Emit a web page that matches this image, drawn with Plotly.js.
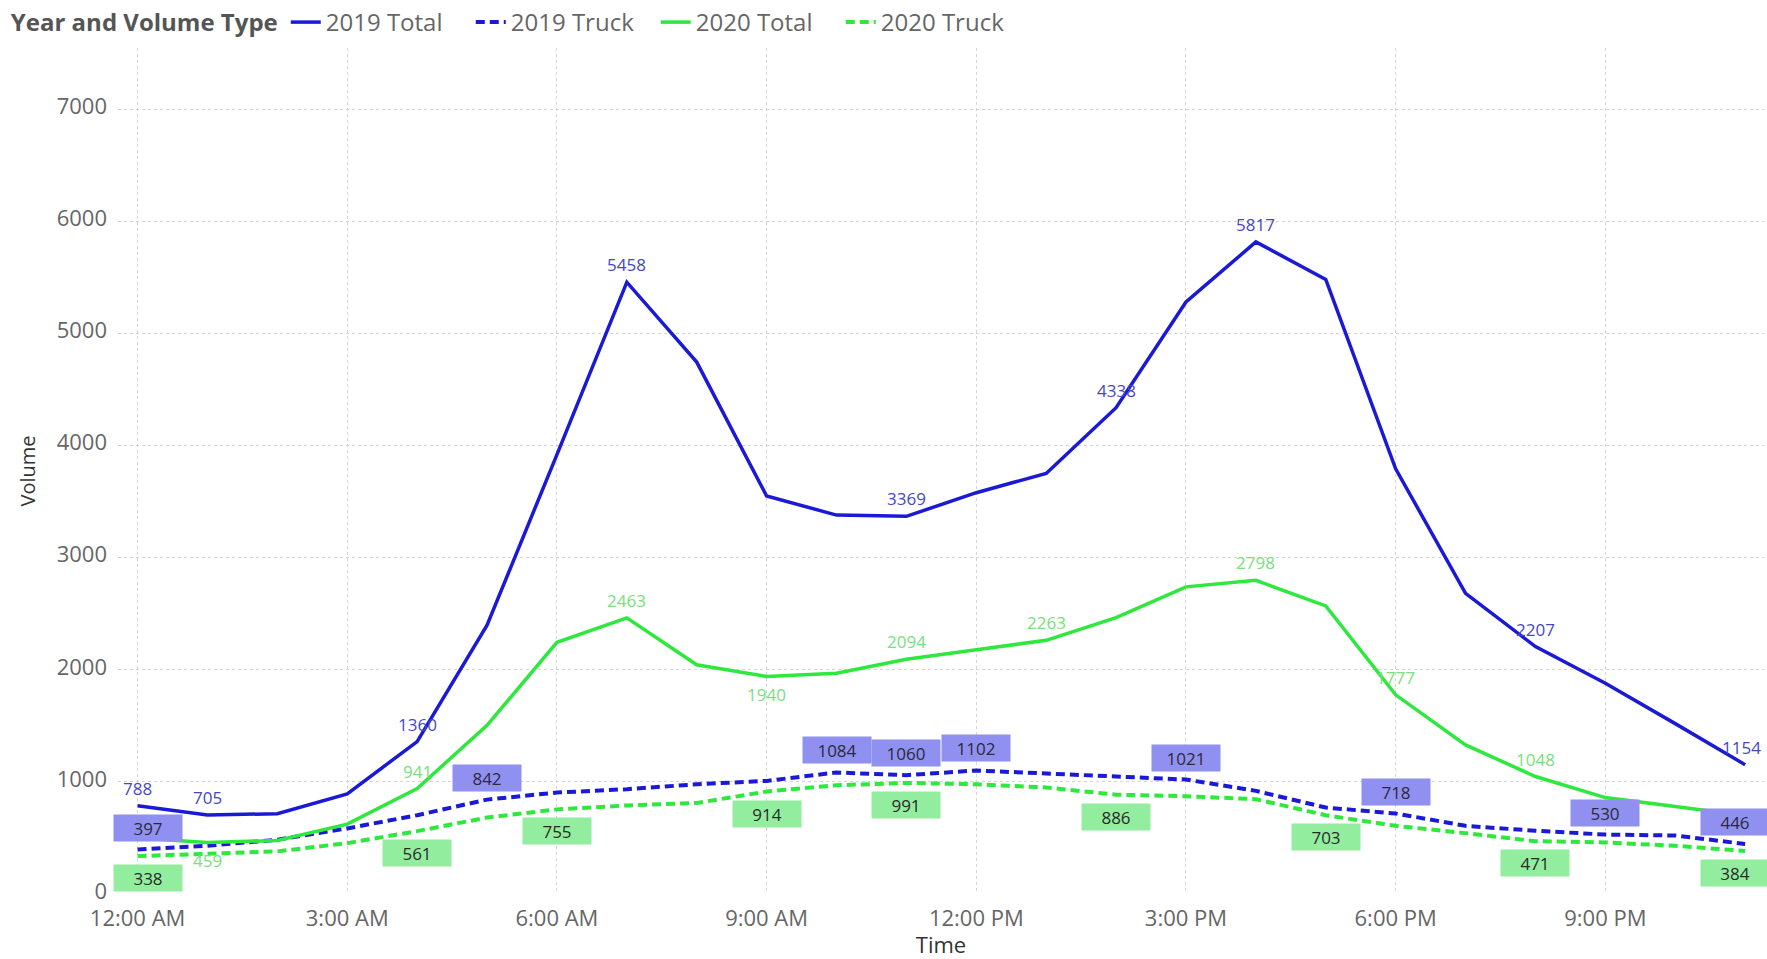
<!DOCTYPE html>
<html>
<head>
<meta charset="utf-8">
<script src="https://cdn.plot.ly/plotly-3.0.1.min.js"></script>
<style>html,body{margin:0;padding:0;background:#fff;}#chart{width:1767px;height:959px;}</style>
</head>
<body>
<div id="chart"></div>
<script>
// Hours 0..23 (12:00 AM .. 11:00 PM)
const hours = [0,1,2,3,4,5,6,7,8,9,10,11,12,13,14,15,16,17,18,19,20,21,22,23];
const tickHours = [0,3,6,9,12,15,18,21];
const tickLabels = ["12:00 AM","3:00 AM","6:00 AM","9:00 AM","12:00 PM","3:00 PM","6:00 PM","9:00 PM"];
const yTicks = [0,1000,2000,3000,4000,5000,6000,7000];

const total2019 = [788,705,716,893,1360,2398,3920,5458,4745,3551,3380,3369,3580,3752,4338,5281,5817,5483,3793,2682,2207,1880,1520,1154];
const truck2019 = [397,430,484,585,703,842,905,935,979,1009,1084,1060,1102,1074,1053,1021,920,771,718,608,564,530,522,446];
const total2020 = [500,459,478,623,941,1505,2245,2463,2045,1940,1970,2094,2179,2263,2465,2740,2798,2570,1777,1330,1048,860,780,700];
const truck2020 = [338,355,380,454,561,682,755,790,812,914,970,991,979,950,886,872,846,703,608,543,471,460,430,384];

// indices of points that carry a data label
const lbl2019Total = [0,1,4,7,11,14,16,20,23];
const lbl2019Truck = [0,5,10,11,12,15,18,21,23];
const lbl2020Total = [1,4,7,9,11,13,16,18,20];
const lbl2020TotalBelow = [1,9];
const lbl2020Truck = [0,4,6,9,11,14,17,20,23];

const BLUE = '#1a1ad6';
const GREEN = '#2ee83e';

const traces = [
  {x: hours, y: total2019, name: '2019 Total', type: 'scatter', mode: 'lines',
   line: {color: BLUE, width: 3.5}},
  {x: hours, y: truck2019, name: '2019 Truck', type: 'scatter', mode: 'lines',
   line: {color: BLUE, width: 4, dash: '9px,5px'}},
  {x: hours, y: total2020, name: '2020 Total', type: 'scatter', mode: 'lines',
   line: {color: GREEN, width: 3.5}},
  {x: hours, y: truck2020, name: '2020 Truck', type: 'scatter', mode: 'lines',
   line: {color: GREEN, width: 4, dash: '9px,5px'}}
];

function edgeShift(i) { return i === 0 ? 10 : (i === 23 ? -10 : 0); }

const annotations = [];
lbl2019Total.forEach(i => annotations.push({
  x: hours[i], y: total2019[i], xref: 'x', yref: 'y', text: String(total2019[i]),
  showarrow: false, yanchor: 'bottom', yshift: 4, xshift: i === 23 ? -4 : 0,
  font: {family: 'Open Sans, sans-serif', size: 17, color: '#4747c4'}
}));
lbl2020Total.forEach(i => {
  const below = lbl2020TotalBelow.indexOf(i) >= 0;
  annotations.push({
    x: hours[i], y: total2020[i], xref: 'x', yref: 'y', text: String(total2020[i]),
    showarrow: false, yanchor: below ? 'top' : 'bottom', yshift: below ? -4 : 4,
    font: {family: 'Open Sans, sans-serif', size: 17, color: '#78e07c'}
  });
});
lbl2019Truck.forEach(i => annotations.push({
  x: hours[i], y: truck2019[i], xref: 'x', yref: 'y', text: String(truck2019[i]),
  showarrow: false, yanchor: 'bottom', yshift: 8, xshift: edgeShift(i),
  bgcolor: '#9090f0', borderpad: 3, width: 62, height: 20,
  font: {family: 'Open Sans, sans-serif', size: 17, color: '#2a2a3a'}
}));
lbl2020Truck.forEach(i => annotations.push({
  x: hours[i], y: truck2020[i], xref: 'x', yref: 'y', text: String(truck2020[i]),
  showarrow: false, yanchor: 'top', yshift: -8, xshift: edgeShift(i),
  bgcolor: '#92ee9e', borderpad: 3, width: 62, height: 20,
  font: {family: 'Open Sans, sans-serif', size: 17, color: '#2a2a2a'}
}));

const layout = {
  width: 1767, height: 959,
  paper_bgcolor: '#ffffff', plot_bgcolor: '#ffffff',
  margin: {l: 118, r: 3, t: 48, b: 65},
  showlegend: true,
  legend: {
    orientation: 'h', xref: 'container', yref: 'container',
    x: 0.005, y: 1.0, xanchor: 'left', yanchor: 'top',
    title: {text: '<b>Year and Volume Type</b>', side: 'left',
            font: {family: 'Open Sans, sans-serif', size: 24, color: '#555555'}},
    font: {family: 'Open Sans, sans-serif', size: 24, color: '#666666'},
    itemwidth: 30, tracegroupgap: 0, traceorder: 'normal',
    entrywidth: 140, entrywidthmode: 'pixels'
  },
  xaxis: {
    range: [-0.28, 23.27], tickvals: tickHours, ticktext: tickLabels,
    showgrid: true, gridcolor: '#d4d4d4', griddash: 'dot', gridwidth: 1,
    zeroline: false, showline: false, ticks: '', ticklabelstandoff: 9,
    tickfont: {family: 'Open Sans, sans-serif', size: 22, color: '#666666'},
    title: {text: 'Time', standoff: 5,
            font: {family: 'Open Sans, sans-serif', size: 22, color: '#333333'}}
  },
  yaxis: {
    range: [0, 7547], tickvals: yTicks,
    showgrid: true, gridcolor: '#d4d4d4', griddash: 'dot', gridwidth: 1,
    zeroline: false, showline: false, ticks: '', ticklabelstandoff: 10,
    ticklabelshift: -3,
    tickfont: {family: 'Open Sans, sans-serif', size: 22, color: '#666666'},
    title: {text: 'Volume', standoff: 15,
            font: {family: 'Open Sans, sans-serif', size: 20, color: '#333333'}}
  },
  annotations: annotations
};

Plotly.newPlot('chart', traces, layout, {displayModeBar: false, staticPlot: true});
</script>
</body>
</html>
